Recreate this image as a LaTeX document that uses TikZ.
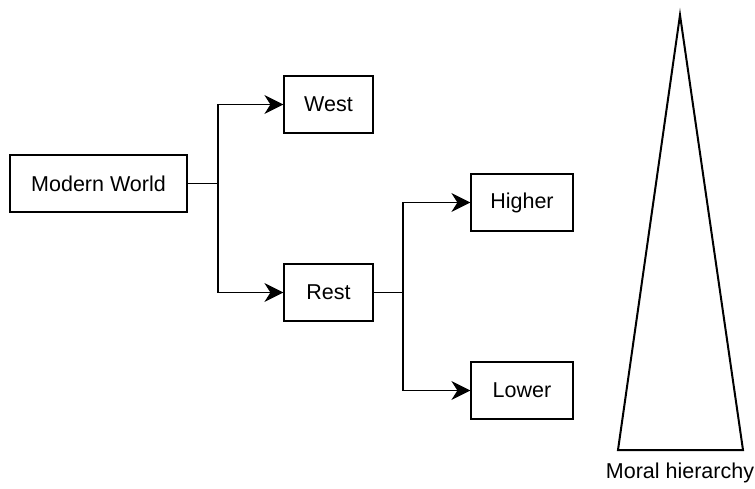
\documentclass[tikz,border=0pt]{standalone}
\usepackage{fontspec}
\setmainfont{Liberation Sans}
\usepackage{tikz}
\usetikzlibrary{arrows.meta, positioning}
\tikzstyle{box} = [rectangle, draw, line width=1.2pt, minimum height=57pt, inner sep=0pt, font=\fontsize{21.5}{25}\selectfont]
\tikzstyle{arrow} = [line width=1.3pt, -{Stealth[length=19pt, width=19pt, inset=6pt]}]
\tikzstyle{line} = [line width=1.3pt]

\begin{document}
\begin{tikzpicture}[x=1pt, y=-1pt]
\useasboundingbox (0,0) rectangle (755,488);

\node [box, minimum width=177pt] (mw) at (98.5,183.5) {Modern World};
\node [box, minimum width=89pt] (west) at (328.5,104.5) {West};
\node [box, minimum width=89pt] (rest) at (328.5,292.5) {Rest};
\node [box, minimum width=102pt] (high) at (522,202.5) {Higher};
\node [box, minimum width=102pt] (low) at (522,390.5) {Lower};

\coordinate (j1) at (218,183.5);
\coordinate (j2) at (403,292.5);

\draw [line] (mw) to (j1);
\draw [arrow] (j1) |- (west);
\draw [arrow] (j1) |- (rest);

\draw [line] (rest) to (j2);
\draw [arrow] (j2) |- (high);
\draw [arrow] (j2) |- (low);

% hierarchy
\draw [line width=2pt] (680,15) -- (743,450) -- (618,450) -- cycle;
\node [font=\fontsize{21.5}{25}\selectfont] (moral) at (680,473) {Moral hierarchy};

\end{tikzpicture}
\end{document}
